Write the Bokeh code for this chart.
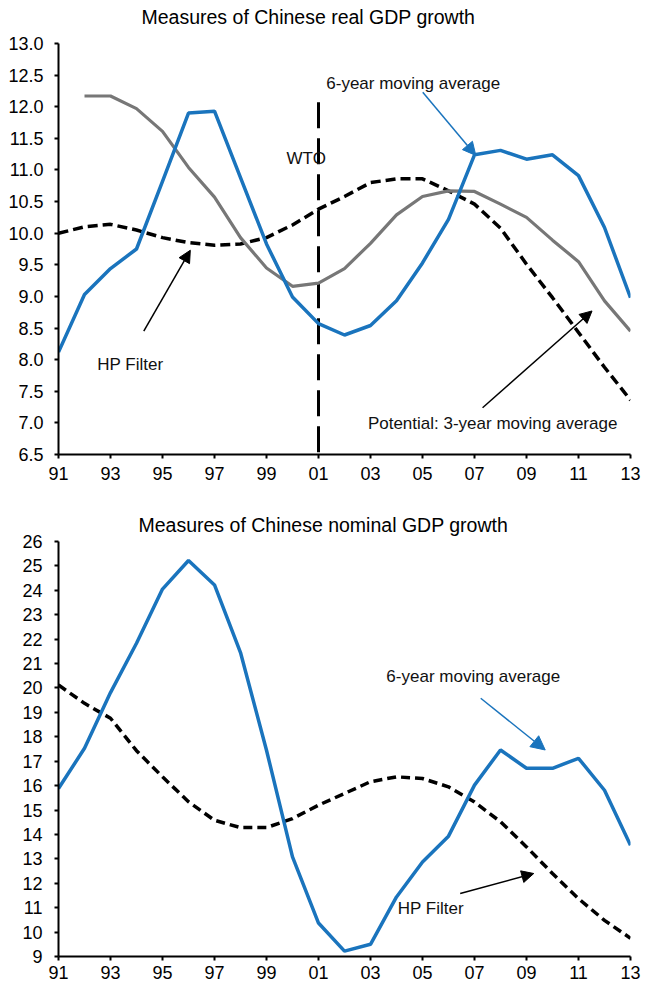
from bokeh.plotting import figure
from bokeh.layouts import column
from bokeh.models import Range1d, FixedTicker, Arrow, NormalHead, Label, NumeralTickFormatter, Title
from bokeh.embed import file_html
from bokeh.resources import INLINE

NAN = float("nan")

# ---------------- data ----------------
years = [1991, 1992, 1993, 1994, 1995, 1996, 1997, 1998, 1999, 2000, 2001, 2002,
         2003, 2004, 2005, 2006, 2007, 2008, 2009, 2010, 2011, 2012, 2013]
year_ticks = [1991, 1993, 1995, 1997, 1999, 2001, 2003, 2005, 2007, 2009, 2011, 2013]
year_labels = ["91", "93", "95", "97", "99", "01", "03", "05", "07", "09", "11", "13"]

# Real GDP growth
real_ma6 = [8.12, 9.03, 9.44, 9.75, 10.82, 11.90, 11.93, 10.88, 9.83, 8.99, 8.57, 8.39,
            8.54, 8.93, 9.53, 10.22, 11.24, 11.31, 11.17, 11.24, 10.91, 10.09, 8.98]
real_potential = [NAN, 12.17, 12.17, 11.97, 11.61, 11.04, 10.57, 9.93, 9.45, 9.16, 9.21, 9.44,
                  9.84, 10.29, 10.58, 10.67, 10.66, 10.46, 10.25, 9.89, 9.55, 8.93, 8.45]
real_hp = [10.00, 10.10, 10.14, 10.05, 9.93, 9.85, 9.81, 9.83, 9.93, 10.13, 10.38, 10.58,
           10.80, 10.86, 10.86, 10.67, 10.46, 10.08, 9.51, 8.98, 8.43, 7.88, 7.36]
real_yticks = [6.5, 7.0, 7.5, 8.0, 8.5, 9.0, 9.5, 10.0, 10.5, 11.0, 11.5, 12.0, 12.5, 13.0]

# Nominal GDP growth
nominal_ma6 = [15.88, 17.53, 19.81, 21.83, 24.05, 25.22, 24.22, 21.45, 17.45, 13.08, 10.37, 9.22,
               9.50, 11.44, 12.87, 13.93, 16.02, 17.46, 16.71, 16.71, 17.12, 15.81, 13.56]
nominal_hp = [20.12, 19.37, 18.76, 17.43, 16.36, 15.34, 14.58, 14.28, 14.28, 14.65, 15.20, 15.68,
              16.16, 16.36, 16.29, 15.95, 15.33, 14.52, 13.49, 12.40, 11.37, 10.48, 9.75]
nominal_yticks = [9, 10, 11, 12, 13, 14, 15, 16, 17, 18, 19, 20, 21, 22, 23, 24, 25, 26]

TITLE_REAL = "Measures of Chinese real GDP growth"
TITLE_NOMINAL = "Measures of Chinese nominal GDP growth"

WTO_YEAR = 2001
WTO_LINE_TOP = 12.07

BLUE = "#1a74bd"
GRAY = "#777777"
FONT = "Liberation Sans"
TICK_SIZE = "18px"
ANN_SIZE = "17px"
TITLE_SIZE = "19.5px"


def style(p, yticks, yfmt):
    p.grid.visible = False
    p.outline_line_color = None
    p.background_fill_color = "white"
    p.border_fill_color = "white"
    for ax in (p.xaxis[0], p.yaxis[0]):
        ax.axis_line_width = 2
        ax.axis_line_color = "black"
        ax.major_tick_line_width = 2
        ax.major_tick_line_color = "black"
        ax.major_tick_in = 0
        ax.major_tick_out = 4
        ax.minor_tick_line_color = None
        ax.major_label_text_font = FONT
        ax.major_label_text_font_size = TICK_SIZE
        ax.major_label_text_color = "black"
    p.xaxis.ticker = FixedTicker(ticks=year_ticks)
    p.xaxis.major_label_overrides = dict(zip(year_ticks, year_labels))
    p.yaxis.ticker = FixedTicker(ticks=yticks)
    p.yaxis.formatter = NumeralTickFormatter(format=yfmt)
    p.title.text_font = FONT
    p.title.text_font_style = "normal"
    p.title.text_font_size = TITLE_SIZE
    p.title.text_color = "black"
    p.title.align = "left"


def note(p, x, y, text, size=ANN_SIZE):
    p.add_layout(Label(x=x, y=y, text=text, text_font=FONT, text_font_size=size,
                       text_baseline="middle", text_color="#111111"))


# ---------------- top chart ----------------
p1 = figure(width=653, height=505, x_range=Range1d(1991, 2013), y_range=Range1d(6.5, 13.0),
            output_backend="svg", toolbar_location=None,
            min_border_left=56, min_border_right=23, min_border_top=10, min_border_bottom=51,
            title=TITLE_REAL)
style(p1, real_yticks, "0.0")
p1.title.offset = 83
p1.title.standoff = 6
# empty spacer between the title and the plotting frame
p1.add_layout(Title(text=" ", text_font_size="6px", standoff=5), "above")
p1.yaxis.major_label_standoff = 11
p1.xaxis.major_label_standoff = 8

p1.segment(x0=[WTO_YEAR], y0=[WTO_LINE_TOP], x1=[WTO_YEAR], y1=[6.5],
           line_color="black", line_width=3, line_dash="26 10")
p1.line(years, real_hp, line_color="black", line_width=3.5, line_dash="10 5")
p1.line(years, real_potential, line_color=GRAY, line_width=3.2)
p1.line(years, real_ma6, line_color=BLUE, line_width=3.5)

note(p1, 2001.3, 12.37, "6-year moving average")
note(p1, 1999.77, 11.18, "WTO")
note(p1, 1992.49, 7.93, "HP Filter")
note(p1, 2002.9, 6.99, "Potential: 3-year moving average")
p1.add_layout(Arrow(end=NormalHead(size=13, fill_color=BLUE, line_color=BLUE),
                    x_start=2005.01, y_start=12.23, x_end=2007.05, y_end=11.23,
                    line_color=BLUE, line_width=1.5))
p1.add_layout(Arrow(end=NormalHead(size=12, fill_color="black", line_color="black"),
                    x_start=1994.28, y_start=8.45, x_end=1996.07, y_end=9.73,
                    line_color="black", line_width=1.5))
p1.add_layout(Arrow(end=NormalHead(size=12, fill_color="black", line_color="black"),
                    x_start=2007.31, y_start=7.24, x_end=2011.52, y_end=8.77,
                    line_color="black", line_width=1.5))

# ---------------- bottom chart ----------------
p2 = figure(width=653, height=482, x_range=Range1d(1991, 2013), y_range=Range1d(9, 26),
            output_backend="svg", toolbar_location=None,
            min_border_left=58, min_border_right=13, min_border_top=10, min_border_bottom=31,
            title=TITLE_NOMINAL)
style(p2, nominal_yticks, "0")
p2.title.offset = 80
p2.title.standoff = 12
p2.yaxis.major_label_standoff = 12
p2.xaxis.major_label_standoff = 5

p2.line(years, nominal_hp, line_color="black", line_width=3.5, line_dash="9 5")
p2.line(years, nominal_ma6, line_color=BLUE, line_width=3.5)

note(p2, 2003.61, 20.46, "6-year moving average")
note(p2, 2004.05, 10.96, "HP Filter")
p2.add_layout(Arrow(end=NormalHead(size=14, fill_color=BLUE, line_color=BLUE),
                    x_start=2007.24, y_start=19.58, x_end=2009.72, y_end=17.46,
                    line_color=BLUE, line_width=1.5))
p2.add_layout(Arrow(end=NormalHead(size=12, fill_color="black", line_color="black"),
                    x_start=2006.45, y_start=11.58, x_end=2009.28, y_end=12.40,
                    line_color="black", line_width=1.5))

layout = column(p1, p2, spacing=0)
open("out.html", "w").write(file_html(layout, INLINE))
